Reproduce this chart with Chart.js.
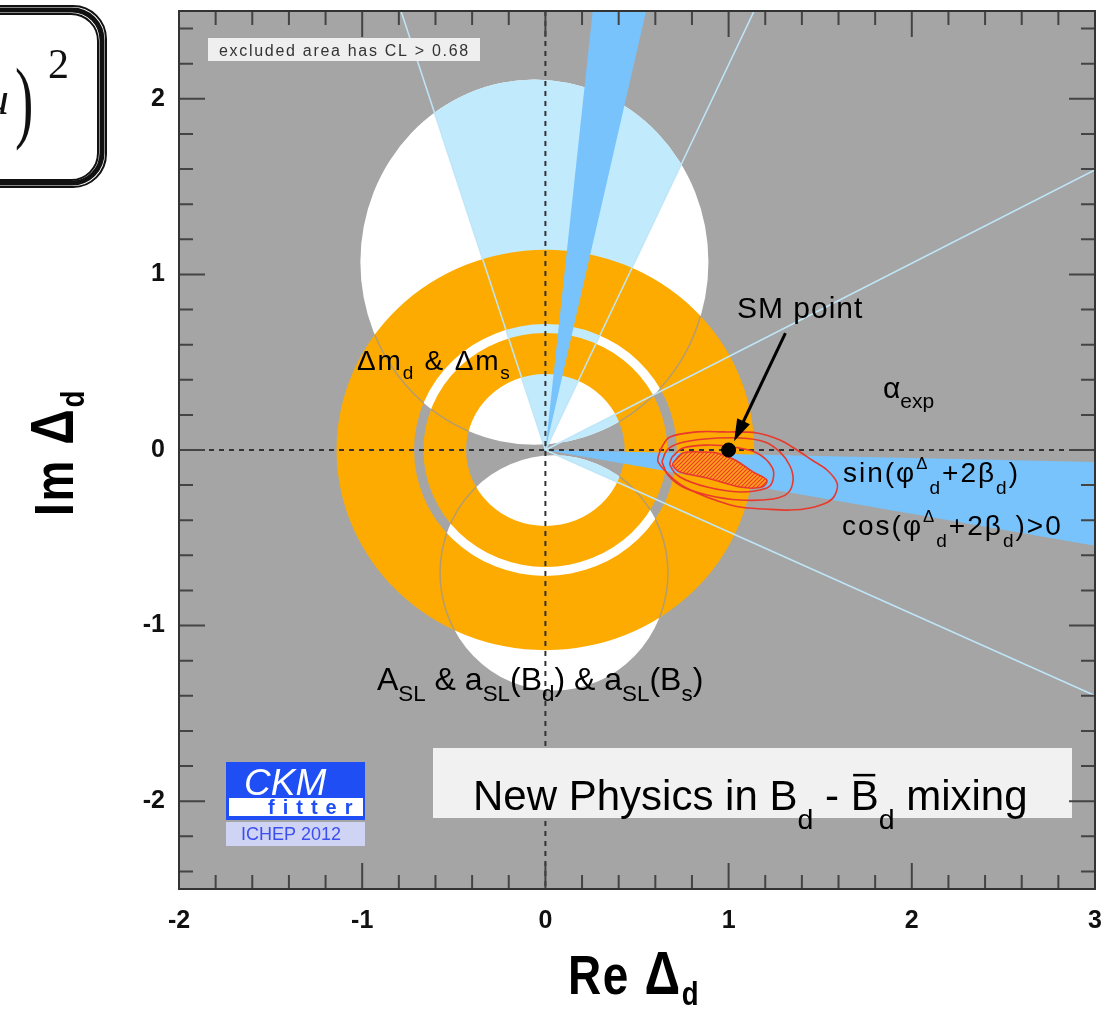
<!DOCTYPE html>
<html>
<head>
<meta charset="utf-8">
<script src="https://cdn.jsdelivr.net/npm/chart.js@4.4.1/dist/chart.umd.min.js"></script>
<style>
html,body{margin:0;padding:0;background:#ffffff;overflow:hidden;}
#box{position:relative;width:1110px;height:1012px;}
</style>
</head>
<body>
<div id="box"><canvas id="chart" width="1110" height="1012"></canvas></div>
<script>
// ---------------- data ----------------
const X_MIN = -2, X_MAX = 3, Y_MIN = -2.5, Y_MAX = 2.5;
const xTickValues = [-2, -1, 0, 1, 2, 3];
const yTickValues = [-2, -1, 0, 1, 2];

// Δm_d & Δm_s : annuli around the origin [rInner, rOuter]
const dmAnnuli = [[0.433, 0.666], [0.717, 1.14]];
// A_SL allowed (white) lobes [cx, cy, rx, ry]
const aslLobes = [[-0.06, 1.07, 0.95, 1.04], [0.047, -0.70, 0.622, 0.67]];
// alpha_exp wedges (degrees) and their edge lines
const alphaWedges = [[65.5, 107.5], [-25, 28]];
const alphaLines = [107.5, 65.5, 28, -25];
// sin(phi+2beta) wedges (degrees)
const sinWedges = [[77.6, 84.1], [-10.3, -1.3]];

// fit contours (Re, Im)
const contourHatch = [
  [0.696,-0.074],[0.751,-0.017],[0.843,-0.011],[0.936,-0.017],[1.035,-0.057],[1.133,-0.125],
  [1.209,-0.171],[1.182,-0.211],[1.062,-0.211],[0.882,-0.159],[0.734,-0.125],[0.696,-0.091],[0.696,-0.074]];
const contourInner = [
  [0.691,-0.040],[0.751,0.011],[0.882,0.028],[1.024,0.017],[1.155,-0.017],[1.237,-0.097],
  [1.242,-0.171],[1.209,-0.216],[1.062,-0.239],[0.882,-0.211],[0.735,-0.154],[0.680,-0.085],[0.691,-0.040]];
const contourMiddle = [
  [0.636,-0.068],[0.664,0.000],[0.735,0.040],[0.871,0.063],[1.062,0.068],[1.198,0.046],[1.280,-0.011],
  [1.335,-0.091],[1.352,-0.171],[1.324,-0.245],[1.242,-0.279],[1.062,-0.285],[0.882,-0.256],
  [0.751,-0.211],[0.669,-0.142],[0.636,-0.068]];
const contourOuter = [
  [0.615,-0.040],[0.636,0.017],[0.680,0.074],[0.828,0.103],[0.970,0.103],[1.155,0.097],[1.280,0.057],
  [1.373,0.000],[1.455,-0.057],[1.537,-0.114],[1.592,-0.188],[1.581,-0.256],[1.543,-0.296],
  [1.444,-0.330],[1.335,-0.342],[1.198,-0.336],[1.062,-0.325],[0.926,-0.285],[0.828,-0.245],
  [0.735,-0.194],[0.664,-0.131],[0.615,-0.068],[0.615,-0.040]];
const smPoint = [[1.0, 0.0]];

// ---------------- styles ----------------
const FONT = '"Liberation Sans", Arial, Helvetica, sans-serif';
const GRAY = '#a5a5a5', PALE = '#c1eafc', MED = '#78c3fc', ORANGE = '#fdab00', RED = '#e8392c';

function toXY(arr){ return arr.map(p => ({x: p[0], y: p[1]})); }

function makeHatch(){
  const c = document.createElement('canvas'); c.width = 4; c.height = 4;
  const g = c.getContext('2d');
  g.fillStyle = '#ffa21e'; g.fillRect(0,0,4,4);
  g.strokeStyle = '#ee3a22'; g.lineWidth = 1.1;
  g.beginPath(); g.moveTo(0,4); g.lineTo(4,0); g.moveTo(-1,1); g.lineTo(1,-1); g.moveTo(3,5); g.lineTo(5,3); g.stroke();
  return g.createPattern(c, 'repeat');
}

function rich(ctx, x, y, parts, size, opt){
  opt = opt || {};
  const sx = opt.sx || 1, ls = opt.ls || 0;
  ctx.save();
  ctx.translate(x, y);
  if (opt.rot) ctx.rotate(opt.rot);
  ctx.scale(sx, 1);
  ctx.fillStyle = opt.color || '#000';
  ctx.textBaseline = 'alphabetic'; ctx.textAlign = 'left';
  try { ctx.letterSpacing = ls + 'px'; } catch(e) {}
  let cx = 0;
  for (const part of parts){
    const t = part[0], k = part[1], scl = part[2] || 1;
    let fs = size * scl, dy = 0;
    if (k === 'b'){ fs = size * (opt.subScale || 0.68); dy = size * (opt.subDy || 0.33); }
    if (k === 'p'){ fs = size * 0.6; dy = -size * 0.45; }
    ctx.font = (opt.style || 'normal') + ' ' + (opt.weight || 'normal') + ' ' + fs + 'px ' + (opt.family || FONT);
    ctx.fillText(t, cx, dy);
    const w = ctx.measureText(t).width;
    if (k === 'o'){
      ctx.fillRect(cx + fs*0.06, dy - fs*0.86, w - fs*0.14, fs*0.06);
    }
    cx += w;
  }
  ctx.restore();
  return cx * sx;
}

const ckmBackground = {
  id: 'ckmBackground',
  beforeDatasetsDraw(chart){
    const ctx = chart.ctx, a = chart.chartArea, xs = chart.scales.x, ys = chart.scales.y;
    const X = v => xs.getPixelForValue(v), Y = v => ys.getPixelForValue(v);
    const ux = X(1) - X(0), uy = Y(0) - Y(1);
    const R = 12;
    ctx.save();
    ctx.beginPath(); ctx.rect(a.left, a.top, a.right - a.left, a.bottom - a.top); ctx.clip();
    ctx.fillStyle = GRAY; ctx.fillRect(a.left, a.top, a.right - a.left, a.bottom - a.top);

    const lobePath = () => {
      ctx.beginPath();
      aslLobes.forEach(([cx, cy, rx, ry]) => {
        ctx.moveTo(X(cx) + rx*ux, Y(cy));
        ctx.ellipse(X(cx), Y(cy), rx*ux, ry*uy, 0, 0, Math.PI*2);
      });
    };
    const wedgePath = ([t1, t2]) => {
      ctx.beginPath();
      ctx.moveTo(X(0), Y(0));
      [t1, t2].forEach(t => {
        const rad = t * Math.PI / 180;
        ctx.lineTo(X(R*Math.cos(rad)), Y(R*Math.sin(rad)));
      });
      ctx.closePath();
    };
    const annPath = () => {
      ctx.beginPath();
      dmAnnuli.forEach(([r1, r2]) => {
        [r1, r2].forEach(r => {
          ctx.moveTo(X(0) + r*ux, Y(0));
          ctx.ellipse(X(0), Y(0), r*ux, r*uy, 0, 0, Math.PI*2);
        });
      });
    };

    // ASL allowed region
    lobePath(); ctx.fillStyle = '#ffffff'; ctx.fill();
    // alpha allowed inside ASL region
    ctx.save(); lobePath(); ctx.clip();
    alphaWedges.forEach(w => { wedgePath(w); ctx.fillStyle = PALE; ctx.fill(); });
    ctx.restore();
    // Δm annuli
    annPath(); ctx.fillStyle = ORANGE; ctx.fill('evenodd');
    // ASL outlines visible on top of orange
    ctx.save(); annPath(); ctx.clip('evenodd');
    ctx.strokeStyle = 'rgba(150,150,160,0.7)'; ctx.lineWidth = 1.5;
    aslLobes.forEach(([cx, cy, rx, ry]) => {
      ctx.beginPath(); ctx.ellipse(X(cx), Y(cy), rx*ux, ry*uy, 0, 0, Math.PI*2); ctx.stroke();
    });
    ctx.restore();
    // sin(phi+2beta) wedges
    sinWedges.forEach(w => { wedgePath(w); ctx.fillStyle = MED; ctx.fill(); });
    // alpha edge lines
    ctx.strokeStyle = '#bfe6f8'; ctx.lineWidth = 1.5;
    alphaLines.forEach(t => {
      const rad = t * Math.PI / 180;
      ctx.beginPath(); ctx.moveTo(X(0), Y(0)); ctx.lineTo(X(R*Math.cos(rad)), Y(R*Math.sin(rad))); ctx.stroke();
    });
    // dashed axes
    ctx.strokeStyle = '#333'; ctx.lineWidth = 2; ctx.setLineDash([5, 5]);
    ctx.beginPath(); ctx.moveTo(X(0), a.top); ctx.lineTo(X(0), a.bottom); ctx.stroke();
    ctx.beginPath(); ctx.moveTo(a.left, Y(0)); ctx.lineTo(a.right, Y(0)); ctx.stroke();
    ctx.setLineDash([]);
    ctx.restore();
  }
};

const ckmOverlay = {
  id: 'ckmOverlay',
  afterDatasetsDraw(chart){
    const ctx = chart.ctx, a = chart.chartArea, xs = chart.scales.x, ys = chart.scales.y;
    const X = v => xs.getPixelForValue(v), Y = v => ys.getPixelForValue(v);
    ctx.save();
    // arrow to SM point
    const tx = X(1.31), ty = Y(0.666), hx = X(1.03), hy = Y(0.05);
    const ang = Math.atan2(hy - ty, hx - tx);
    ctx.strokeStyle = '#000'; ctx.fillStyle = '#000'; ctx.lineWidth = 3;
    ctx.beginPath(); ctx.moveTo(tx, ty); ctx.lineTo(hx - 16*Math.cos(ang), hy - 16*Math.sin(ang)); ctx.stroke();
    ctx.beginPath();
    ctx.moveTo(hx, hy);
    ctx.lineTo(hx - 22*Math.cos(ang) + 7*Math.sin(ang), hy - 22*Math.sin(ang) - 7*Math.cos(ang));
    ctx.lineTo(hx - 22*Math.cos(ang) - 7*Math.sin(ang), hy - 22*Math.sin(ang) + 7*Math.cos(ang));
    ctx.closePath(); ctx.fill();

    // labels
    rich(ctx, 737, 318, [['SM point','n']], 30, {ls: 1});
    rich(ctx, 357, 370, [['Δm','n'],['d','b'],[' & Δm','n'],['s','b']], 28, {ls: 1.8});
    rich(ctx, 883, 398, [['α','n'],['exp','b']], 30, {subScale: 0.7, subDy: 0.33});
    rich(ctx, 843, 482, [['sin(φ','n'],['Δ','p'],['d','b'],['+2β','n'],['d','b'],[')','n']], 28, {ls: 2, subDy: 0.42});
    rich(ctx, 842, 535, [['cos(φ','n'],['Δ','p'],['d','b'],['+2β','n'],['d','b'],[')>0','n']], 28, {ls: 2, subDy: 0.42});
    rich(ctx, 377, 690, [['A','n'],['SL','b'],[' & a','n'],['SL','b'],['(B','n'],['d','b'],[') & a','n'],['SL','b'],['(B','n'],['s','b'],[')','n']], 32, {subScale: 0.7, subDy: 0.35});

    // excluded area box
    ctx.fillStyle = '#efefef'; ctx.fillRect(208, 38, 272, 23);
    rich(ctx, 219, 56, [['excluded area has CL > 0.68','n']], 16, {color: '#333', ls: 1.7});

    // title box
    ctx.fillStyle = '#f1f1f1'; ctx.fillRect(433, 748, 639, 70);
    rich(ctx, 473, 810, [['New Physics in B','n'],['d','b'],[' - ','n'],['B','o'],['d','b'],[' mixing','n']], 42, {sx: 1.0, subDy: 0.45});

    // CKMfitter logo
    ctx.fillStyle = '#1f4ef5'; ctx.fillRect(226, 762, 139, 58);
    ctx.fillStyle = '#ffffff'; ctx.fillRect(229, 798, 134, 18);
    rich(ctx, 244, 795, [['CKM','n']], 37, {style: 'italic', color: '#ffffff'});
    rich(ctx, 268, 814, [['fitter','n']], 20, {weight: 'bold', color: '#1f4ef5', ls: 8});
    ctx.fillStyle = '#cfd3f4'; ctx.fillRect(226, 822, 139, 24);
    rich(ctx, 241, 840, [['ICHEP 2012','n']], 18, {color: '#3b4ff0'});

    // frame ticks (inward)
    ctx.strokeStyle = '#444'; ctx.lineWidth = 2;
    for (let i = Math.round(X_MIN*5); i <= Math.round(X_MAX*5); i++){
      const v = i/5, len = (i % 5 === 0) ? 26 : 14, px = X(v);
      ctx.beginPath();
      ctx.moveTo(px, a.bottom); ctx.lineTo(px, a.bottom - len);
      ctx.moveTo(px, a.top); ctx.lineTo(px, a.top + len);
      ctx.stroke();
    }
    for (let i = Math.ceil(Y_MIN*5); i <= Math.floor(Y_MAX*5); i++){
      const v = i/5, len = (i % 5 === 0) ? 26 : 14, py = Y(v);
      ctx.beginPath();
      ctx.moveTo(a.left, py); ctx.lineTo(a.left + len, py);
      ctx.moveTo(a.right, py); ctx.lineTo(a.right - len, py);
      ctx.stroke();
    }
    ctx.strokeStyle = '#333'; ctx.lineWidth = 2;
    ctx.strokeRect(a.left, a.top, a.right - a.left, a.bottom - a.top);

    // axis titles
    rich(ctx, 568, 994, [['Re ','n'],['Δ','n',1.08],['d','b']], 56, {weight: 'bold', sx: 0.82, ls: 2, subScale: 0.6, subDy: 0.2});
    rich(ctx, 73, 516, [['Im ','n'],['Δ','n',1.08],['d','b']], 56, {weight: 'bold', sx: 0.82, ls: 2, subScale: 0.6, subDy: 0.2, rot: -Math.PI/2});
    ctx.restore();
  },
  afterDraw(chart){
    const ctx = chart.ctx;
    ctx.save();
    // fragment of neighbouring figure (top-left)
    ctx.strokeStyle = '#111'; ctx.lineWidth = 5;
    ctx.beginPath(); ctx.roundRect(-30, 10, 132, 173, 30); ctx.stroke();
    ctx.lineWidth = 2;
    ctx.beginPath(); ctx.roundRect(-27, 14, 125, 166, 27); ctx.stroke();
    ctx.beginPath(); ctx.roundRect(-33, 6, 139, 181, 33); ctx.stroke();
    ctx.fillStyle = '#111';
    ctx.font = 'italic 46px "Liberation Serif", "DejaVu Serif", serif';
    ctx.fillText('u', -14, 114);
    ctx.save(); ctx.translate(15, 131); ctx.scale(0.6, 1);
    ctx.font = '92px "Liberation Serif", "DejaVu Serif", serif';
    ctx.fillText(')', 0, 0);
    ctx.restore();
    ctx.font = '42px "Liberation Serif", "DejaVu Serif", serif';
    ctx.fillText('2', 48, 78);
    ctx.restore();
  }
};

const tickFont = {family: FONT, size: 25, weight: 'bold'};

new Chart(document.getElementById('chart'), {
  type: 'line',
  data: {
    datasets: [
      { label: 'SM point', data: toXY(smPoint), showLine: false, pointRadius: 7, pointHoverRadius: 7,
        pointBackgroundColor: '#000', pointBorderColor: '#000', order: 0 },
      { label: '1σ', data: toXY(contourHatch), showLine: true, fill: 'shape', backgroundColor: makeHatch(),
        borderColor: RED, borderWidth: 1.5, pointRadius: 0, tension: 0.35, order: 1 },
      { label: 'inner', data: toXY(contourInner), showLine: true, fill: false, borderColor: RED,
        borderWidth: 1.6, pointRadius: 0, tension: 0.35, order: 2 },
      { label: 'middle', data: toXY(contourMiddle), showLine: true, fill: false, borderColor: RED,
        borderWidth: 1.6, pointRadius: 0, tension: 0.35, order: 3 },
      { label: 'outer', data: toXY(contourOuter), showLine: true, fill: false, borderColor: RED,
        borderWidth: 1.6, pointRadius: 0, tension: 0.35, order: 4 }
    ]
  },
  options: {
    responsive: false,
    animation: false,
    events: [],
    layout: { padding: { left: 0, top: 11, right: 15, bottom: 0 } },
    plugins: { legend: { display: false }, tooltip: { enabled: false }, title: { display: false } },
    scales: {
      x: {
        type: 'linear', min: X_MIN, max: X_MAX,
        afterBuildTicks: s => { s.ticks = xTickValues.map(v => ({value: v})); },
        afterFit: s => { s.height = 123; s.paddingLeft = 0; s.paddingRight = 0; },
        grid: { display: false, drawTicks: false }, border: { display: false },
        ticks: { font: tickFont, color: '#111', padding: 17, maxRotation: 0, autoSkip: false }
      },
      y: {
        type: 'linear', min: Y_MIN, max: Y_MAX,
        afterBuildTicks: s => { s.ticks = yTickValues.map(v => ({value: v})); },
        afterFit: s => { s.width = 179; s.paddingTop = 0; s.paddingBottom = 0; },
        grid: { display: false, drawTicks: false }, border: { display: false },
        ticks: { font: tickFont, color: '#111', padding: 14, autoSkip: false }
      }
    }
  },
  plugins: [ckmBackground, ckmOverlay]
});
</script>
</body>
</html>
